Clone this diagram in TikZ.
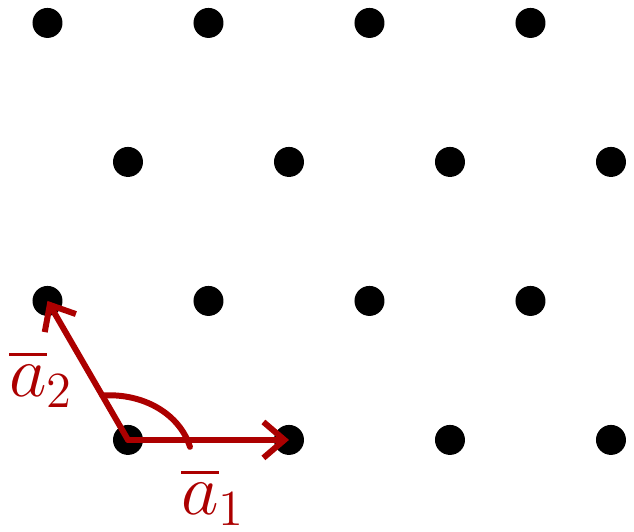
\documentclass[tikz,border=0pt]{standalone}
\usepackage{amsmath,amssymb}
\usepackage{tikz}
\usetikzlibrary{arrows.meta,positioning,calc}
\definecolor{vecred}{RGB}{172,0,0}

\begin{document}
\begin{tikzpicture}[x=1.61cm,y=1.39cm,
    dot/.style={circle,fill=black,inner sep=0pt,minimum size=0.3cm},
    vec/.style={vecred,line width=1.7pt,line cap=round,-{Straight Barb[length=2.1mm,width=3.6mm,line width=1.7pt]}},
    lbl/.style={vecred,font=\fontsize{22}{24}\selectfont}]
    \useasboundingbox (-0.795,-0.662) rectangle (3.143,3.165);

    % lattice points
    \foreach \j in {0,2} {
        \foreach \i in {0,...,3}
            \node[dot] (d-\i-\j) at (\i,\j) {};
    }
    \foreach \j in {1,3} {
        \foreach \i in {0,...,3}
            \node[dot] (d-\i-\j) at (\i-0.5,\j) {};
    }

    \draw[vec] (d-0-0.center) -- (d-1-0.center);
    \draw[vec] (d-0-0.center) -- (d-0-1.center);

    % angle
    \coordinate (arcend) at (0.385,-0.05);
    \draw[vecred,line width=1.7pt,line cap=round] ($(d-0-0.center)!0.32!(d-0-1.center)$)
        .. controls (0.106,0.338) and (0.323,0.18) .. (arcend);

    \node[lbl] (lbla1) at (0.53,-0.41) {$\overline{a}_1$};
    \node[lbl] (lbla2) at (-0.54,0.44) {$\overline{a}_2$};
\end{tikzpicture}
\end{document}
